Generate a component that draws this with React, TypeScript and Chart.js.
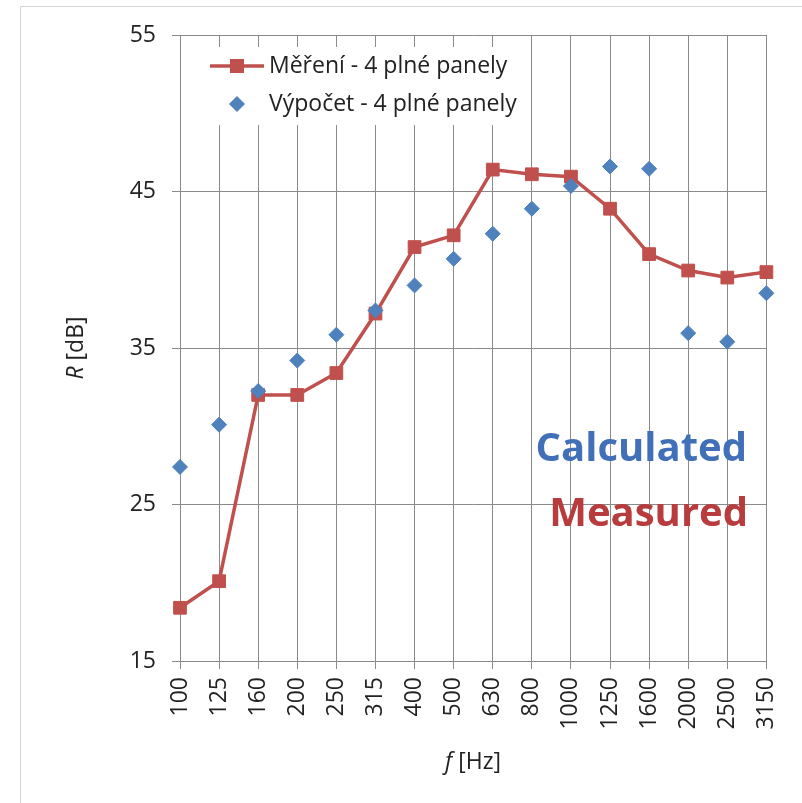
import { useEffect, useRef } from 'react';
import { Chart, registerables } from 'chart.js';

Chart.register(...registerables);

const frequencies = ['100', '125', '160', '200', '250', '315', '400', '500', '630', '800', '1000', '1250', '1600', '2000', '2500', '3150'];
const measured = [18.4, 20.1, 32.0, 32.0, 33.4, 37.2, 41.45, 42.2, 46.4, 46.1, 45.95, 43.9, 41.0, 39.95, 39.5, 39.85];
const calculated = [27.4, 30.1, 32.25, 34.2, 35.85, 37.4, 39.0, 40.7, 42.3, 43.9, 45.35, 46.6, 46.45, 35.95, 35.4, 38.5];
const yTicks = [15, 25, 35, 45, 55];
const measuredLabel = 'Měření - 4 plné panely';
const calculatedLabel = 'Výpočet - 4 plné panely';
const yTitleItalic = 'R';
const yTitleRest = ' [dB]';
const xTitleItalic = 'f';
const xTitleRest = ' [Hz]';
const noteCalculated = 'Calculated';
const noteMeasured = 'Measured';

const RED = '#C0504D';
const BLUE = '#4F81BD';
const GRID = '#8a8a8a';
const TEXT = '#222222';
const FONT = '"Open Sans", "DejaVu Sans", sans-serif';

const decor = {
  id: 'decor',
  beforeDraw(chart: any) {
    const ctx = chart.ctx;
    ctx.save();
    ctx.fillStyle = '#ffffff';
    ctx.fillRect(0, 0, chart.width, chart.height);
    ctx.strokeStyle = '#d4d4d4';
    ctx.lineWidth = 1;
    ctx.beginPath();
    ctx.moveTo(20.5, chart.height);
    ctx.lineTo(20.5, 6.5);
    ctx.lineTo(chart.width, 6.5);
    ctx.stroke();
    ctx.restore();
  },
  afterDraw(chart: any) {
    const ctx = chart.ctx;
    ctx.save();
    // legend box
    ctx.fillStyle = '#ffffff';
    ctx.fillRect(187, 47, 341, 78);
    ctx.font = `23px ${FONT}`;
    ctx.fillStyle = TEXT;
    ctx.textBaseline = 'middle';
    ctx.textAlign = 'left';
    // measured entry
    ctx.strokeStyle = RED;
    ctx.lineWidth = 3.5;
    ctx.beginPath();
    ctx.moveTo(210, 66);
    ctx.lineTo(264, 66);
    ctx.stroke();
    ctx.fillStyle = RED;
    ctx.fillRect(237 - 7, 66 - 7, 14, 14);
    ctx.fillStyle = TEXT;
    ctx.fillText(measuredLabel, 269, 66);
    // calculated entry
    ctx.fillStyle = BLUE;
    ctx.beginPath();
    ctx.moveTo(237, 104 - 8);
    ctx.lineTo(237 + 8, 104);
    ctx.lineTo(237, 104 + 8);
    ctx.lineTo(237 - 8, 104);
    ctx.closePath();
    ctx.fill();
    ctx.fillStyle = TEXT;
    ctx.fillText(calculatedLabel, 269, 104);

    // y title
    ctx.save();
    ctx.translate(76, 348);
    ctx.rotate(-Math.PI / 2);
    ctx.font = `italic 23px ${FONT}`;
    const w1 = ctx.measureText(yTitleItalic).width;
    ctx.font = `23px ${FONT}`;
    const w2 = ctx.measureText(yTitleRest).width;
    const sx = -(w1 + w2) / 2;
    ctx.textAlign = 'left';
    ctx.font = `italic 23px ${FONT}`;
    ctx.fillText(yTitleItalic, sx, 0);
    ctx.font = `23px ${FONT}`;
    ctx.fillText(yTitleRest, sx + w1, 0);
    ctx.restore();

    // x title
    ctx.font = `italic 23px ${FONT}`;
    const x1 = ctx.measureText(xTitleItalic).width;
    ctx.font = `23px ${FONT}`;
    const x2 = ctx.measureText(xTitleRest).width;
    const xs = 473 - (x1 + x2) / 2;
    ctx.font = `italic 23px ${FONT}`;
    ctx.fillText(xTitleItalic, xs, 762);
    ctx.font = `23px ${FONT}`;
    ctx.fillText(xTitleRest, xs + x1, 762);

    // notes
    ctx.textAlign = 'right';
    ctx.textBaseline = 'alphabetic';
    ctx.font = `bold 40px ${FONT}`;
    ctx.fillStyle = '#4170B8';
    ctx.fillText(noteCalculated, 747, 461);
    ctx.fillStyle = '#B83B3D';
    ctx.fillText(noteMeasured, 748, 526);
    ctx.restore();
  },
};

export default function App() {
  const ref = useRef<HTMLCanvasElement | null>(null);
  useEffect(() => {
    if (!ref.current) return;
    const chart = new Chart(ref.current, {
      type: 'line',
      data: {
        labels: frequencies,
        datasets: [
          {
            label: measuredLabel,
            data: measured,
            borderColor: RED,
            backgroundColor: RED,
            borderWidth: 3.5,
            pointStyle: 'rect',
            pointRadius: 9,
            pointBorderWidth: 1,
            pointBackgroundColor: RED,
            pointBorderColor: RED,
            tension: 0,
            clip: false,
            order: 1,
          } as any,
          {
            label: calculatedLabel,
            data: calculated,
            showLine: false,
            borderColor: BLUE,
            backgroundColor: BLUE,
            pointStyle: 'rectRot',
            pointRadius: 7.5,
            pointBorderWidth: 1,
            pointBackgroundColor: BLUE,
            pointBorderColor: BLUE,
            clip: false,
            order: 0,
          } as any,
        ],
      },
      options: {
        responsive: false,
        animation: false,
        devicePixelRatio: 1,
        layout: { padding: { top: 35, right: 33, left: 0, bottom: 0 } },
        plugins: { legend: { display: false }, tooltip: { enabled: false } },
        scales: {
          x: {
            type: 'category',
            offset: false,
            grid: { color: GRID, lineWidth: 1, tickLength: 8, drawOnChartArea: true },
            border: { color: GRID, width: 1 },
            ticks: {
              autoSkip: false,
              maxRotation: 90,
              minRotation: 90,
              padding: 8,
              color: TEXT,
              font: { family: FONT, size: 23 },
            },
            afterFit(scale: any) {
              scale.height = 142;
            },
          },
          y: {
            min: 15,
            max: 55,
            grid: { color: GRID, lineWidth: 1, tickLength: 8 },
            border: { color: GRID, width: 1 },
            ticks: {
              padding: 16,
              color: TEXT,
              font: { family: FONT, size: 23 },
            },
            afterBuildTicks(scale: any) {
              scale.ticks = yTicks.map((v) => ({ value: v }));
            },
            afterFit(scale: any) {
              scale.width = 180;
            },
          },
        },
      },
      plugins: [decor],
    });
    return () => chart.destroy();
  }, []);
  return (
    <div style={{ position: 'absolute', left: 0, top: 0, width: 802, height: 803 }}>
      <canvas ref={ref} width={802} height={803} style={{ display: 'block' }} />
    </div>
  );
}
